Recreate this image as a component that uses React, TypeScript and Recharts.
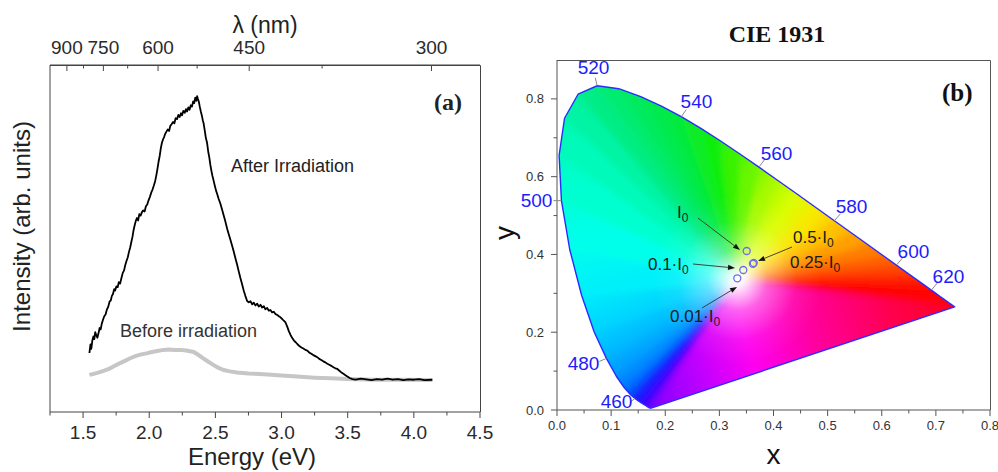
import React from 'react';
import {
  ComposedChart,
  Line,
  XAxis,
  YAxis,
  ScatterChart,
  Scatter,
  ReferenceDot,
  Customized,
} from 'recharts';

// ---------- (a) emission spectra ----------
const afterE = [
  1.548, 1.556, 1.562, 1.57, 1.578, 1.585, 1.592, 1.6, 1.608, 1.616, 1.625, 1.633, 1.641, 1.65, 1.66, 1.67,
  1.679, 1.69, 1.7, 1.71, 1.717, 1.726, 1.735, 1.742, 1.752, 1.762, 1.77, 1.78, 1.79, 1.8, 1.81, 1.818,
  1.828, 1.838, 1.846, 1.856, 1.866, 1.874, 1.881, 1.89, 1.898, 1.907, 1.916, 1.925, 1.935, 1.945, 1.955,
  1.965, 1.975, 1.985, 1.995, 2.005, 2.015, 2.025, 2.035, 2.045, 2.055, 2.063, 2.071, 2.08, 2.088, 2.096,
  2.105, 2.113, 2.121, 2.13, 2.14, 2.15, 2.159, 2.17, 2.18, 2.19, 2.2, 2.21, 2.22, 2.23, 2.24, 2.248,
  2.258, 2.268, 2.278, 2.286, 2.296, 2.305, 2.314, 2.323, 2.332, 2.34, 2.348, 2.356, 2.362, 2.368, 2.375,
  2.382, 2.39, 2.398, 2.405, 2.411, 2.42, 2.428, 2.437, 2.446, 2.454, 2.462, 2.47, 2.478, 2.487, 2.497,
  2.505, 2.513, 2.525, 2.538, 2.551, 2.563, 2.576, 2.589, 2.601, 2.613, 2.626, 2.638, 2.651, 2.664, 2.676,
  2.689, 2.702, 2.714, 2.727, 2.74, 2.752, 2.765, 2.778, 2.79, 2.803, 2.816, 2.828, 2.841, 2.853, 2.866,
  2.878, 2.891, 2.904, 2.916, 2.929, 2.942, 2.955, 2.967, 2.98, 2.992, 3.005, 3.017, 3.03, 3.043, 3.055,
  3.068, 3.081, 3.094, 3.107, 3.119, 3.135, 3.15, 3.165, 3.18, 3.195, 3.21, 3.225, 3.24, 3.255, 3.27,
  3.285, 3.3, 3.316, 3.331, 3.346, 3.361, 3.376, 3.392, 3.407, 3.422, 3.437, 3.452, 3.468, 3.483, 3.498,
  3.515, 3.536, 3.56, 3.6, 3.64, 3.68, 3.72, 3.76, 3.8, 3.84, 3.88, 3.92, 3.96, 4.0, 4.04, 4.08, 4.14,
];
const afterI = [
  17.0, 19.5, 18.2, 20.6, 21.8, 21.0, 23.0, 22.1, 21.4, 22.6, 24.2, 23.8, 25.4, 26.5, 27.6, 28.1,
  29.4, 30.3, 31.8, 32.2, 33.4, 34.0, 35.4, 35.0, 36.2, 36.0, 37.4, 37.0, 38.6, 40.1, 40.8, 42.2,
  43.5, 44.6, 46.0, 47.4, 49.2, 50.6, 52.3, 53.8, 55.0, 55.9, 55.2, 57.0, 56.6, 57.6, 58.1,
  57.8, 59.3, 59.8, 61.0, 62.0, 63.2, 64.1, 65.3, 66.6, 68.5, 70.3, 72.2, 74.0, 76.1, 77.6,
  78.6, 79.3, 80.2, 80.8, 81.4, 81.0, 82.4, 83.0, 83.6, 83.2, 84.7, 84.4, 85.6, 85.0, 86.1, 85.5,
  86.8, 86.2, 87.3, 86.6, 87.8, 87.1, 88.4, 88.0, 89.5, 89.0, 90.6, 89.7, 91.0, 90.2, 89.4,
  88.0, 86.6, 85.4, 84.0, 83.2, 81.0, 79.0, 77.6, 75.0, 73.4, 71.2, 69.5, 68.0, 66.6, 65.0,
  63.8, 62.9, 61.4, 60.0, 58.3, 56.6, 54.8, 52.8, 51.2, 49.7, 48.0, 46.3, 44.4, 42.5, 40.6,
  38.6, 36.8, 35.0, 33.4, 32.0, 31.6, 31.9, 31.0, 31.5, 30.7, 31.2, 30.4, 30.9, 30.1, 30.5,
  29.6, 30.0, 29.2, 29.4, 28.7, 28.9, 28.2, 28.0, 27.6, 27.3, 26.8, 26.3, 25.8, 24.6, 23.3,
  22.2, 21.3, 20.6, 20.1, 19.6, 19.0, 18.6, 18.3, 17.9, 17.7, 17.1, 16.8, 16.4, 16.1, 15.8,
  15.3, 15.0, 14.6, 14.3, 13.9, 13.6, 13.3, 12.9, 12.6, 12.4, 11.9, 11.4, 11.0, 10.6, 10.2,
  9.8, 9.5, 9.3, 9.6, 9.4, 9.2, 9.5, 9.3, 9.6, 9.3, 9.5, 9.2, 9.4, 9.3, 9.5, 9.2, 9.3,
];
const beforeE = [
  1.548, 1.58, 1.62, 1.66, 1.7, 1.74, 1.78, 1.82, 1.856, 1.9, 1.94, 1.98, 2.02, 2.06, 2.108, 2.15, 2.19,
  2.235, 2.28, 2.336, 2.37, 2.411, 2.45, 2.487, 2.52, 2.563, 2.61, 2.664, 2.75, 2.866, 3.0, 3.119, 3.25,
  3.371, 3.5, 3.7, 3.9, 4.14,
];
const beforeI = [
  10.7, 11.0, 11.4, 11.9, 12.5, 13.3, 14.1, 14.8, 15.5, 16.2, 16.6, 16.9, 17.3, 17.6, 17.9, 18.0, 17.9,
  17.9, 17.7, 17.3, 16.5, 15.4, 14.4, 13.5, 12.8, 12.1, 11.7, 11.4, 11.1, 10.9, 10.5, 10.2, 9.9,
  9.7, 9.5, 9.3, 9.3, 9.2,
];

const energyTicks = [1.5, 2.0, 2.5, 3.0, 3.5, 4.0, 4.5];
const energyMinor = [1.25, 1.75, 2.25, 2.75, 3.25, 3.75, 4.25];
const lambdaTicks = [900, 750, 600, 450, 300];
const lambdaMinor = [825, 675, 525, 375];
const energyRange = [1.25, 4.5];
const intensityRange = [0, 100];
const HC = 1240; // eV*nm

// ---------- (b) CIE 1931 ----------
const locusNm = [
  380, 385, 390, 395, 400, 405, 410, 415, 420, 425, 430, 435, 440, 445, 450, 455, 460, 465, 470, 475,
  480, 485, 490, 495, 500, 505, 510, 515, 520, 525, 530, 535, 540, 545, 550, 555, 560, 565, 570, 575,
  580, 585, 590, 595, 600, 605, 610, 615, 620, 625, 630, 635, 640, 645, 650, 655, 660, 665, 670, 675,
  680, 685, 690, 695, 700,
];
const locusX = [
  0.1741, 0.174, 0.1738, 0.1736, 0.1733, 0.173, 0.1726, 0.1721, 0.1714, 0.1703, 0.1689, 0.1669, 0.1644,
  0.1611, 0.1566, 0.151, 0.144, 0.1355, 0.1241, 0.1096, 0.0913, 0.0687, 0.0454, 0.0235, 0.0082, 0.0039,
  0.0139, 0.0389, 0.0743, 0.1142, 0.1547, 0.1929, 0.2296, 0.2658, 0.3016, 0.3373, 0.3731, 0.4087, 0.4441,
  0.4788, 0.5125, 0.5448, 0.5752, 0.6029, 0.627, 0.6482, 0.6658, 0.6801, 0.6915, 0.7006, 0.7079, 0.714,
  0.719, 0.723, 0.726, 0.7283, 0.73, 0.7311, 0.732, 0.7327, 0.7334, 0.734, 0.7344, 0.7346, 0.7347,
];
const locusY = [
  0.005, 0.005, 0.0049, 0.0049, 0.0048, 0.0048, 0.0048, 0.0048, 0.0051, 0.0058, 0.0069, 0.0086, 0.0109,
  0.0138, 0.0177, 0.0227, 0.0297, 0.0399, 0.0578, 0.0868, 0.1327, 0.2007, 0.295, 0.4127, 0.5384, 0.6548,
  0.7502, 0.812, 0.8338, 0.8262, 0.8059, 0.7816, 0.7543, 0.7243, 0.6923, 0.6589, 0.6245, 0.5896, 0.5547,
  0.5202, 0.4866, 0.4544, 0.4242, 0.3965, 0.3725, 0.3514, 0.334, 0.3197, 0.3083, 0.2993, 0.292, 0.2859,
  0.2809, 0.277, 0.274, 0.2717, 0.27, 0.2689, 0.268, 0.2673, 0.2666, 0.266, 0.2656, 0.2654, 0.2653,
];
const whitePoint = [0.3333, 0.3333];
const labelNm = [460, 480, 500, 520, 540, 560, 580, 600, 620];

const pointNames = ['I0', '0.5·I0', '0.25·I0', '0.1·I0', '0.01·I0'];
const pointX = [0.3505, 0.3635, 0.362, 0.3442, 0.3331];
const pointY = [0.4088, 0.378, 0.376, 0.36, 0.3387];

const xTicks = [0, 0.1, 0.2, 0.3, 0.4, 0.5, 0.6, 0.7, 0.8];
const xMinor = [0.05, 0.15, 0.25, 0.35, 0.45, 0.55, 0.65, 0.75];
const yTicks = [0, 0.2, 0.4, 0.6, 0.8];
const yMinor = [0.1, 0.3, 0.5, 0.7];
const cieXRange = [0, 0.8];
const cieYRange = [0, 0.9];

// annotation layout (data coordinates)
const notes = [
  { text: 'I0', at: [0.2217, 0.4937], from: [0.2605, 0.4937], to: [0.3381, 0.4114] },
  { text: '0.5·I0', at: [0.436, 0.4294], from: [0.4342, 0.4191], to: [0.3714, 0.3831] },
  { text: '0.25·I0', at: [0.4305, 0.3651] },
  { text: '0.1·I0', at: [0.1681, 0.36], from: [0.2513, 0.3754], to: [0.3289, 0.3651] },
  { text: '0.01·I0', at: [0.2088, 0.2263], from: [0.2679, 0.2623], to: [0.3326, 0.3163] },
];

const FONT = 'Arial, "Liberation Sans", Helvetica, sans-serif';
const SERIF = '"Times New Roman", "Liberation Serif", serif';

// fill colours along the locus
const hueStops: [number, string][] = [
  [380, '#8000ff'], [420, '#6a00ff'], [445, '#3800ff'], [460, '#0a20ff'], [470, '#0070ff'],
  [480, '#00b0ff'], [487, '#00e0ff'], [493, '#00fff4'], [500, '#00ffd0'], [510, '#00f4a4'],
  [520, '#00ec84'], [530, '#00ea60'], [540, '#00ea40'], [550, '#10ee10'], [558, '#50f400'],
  [565, '#a8fa00'], [572, '#f0ff00'], [578, '#ffd000'], [585, '#ffa000'], [592, '#ff7000'],
  [600, '#ff4400'], [610, '#ff1800'], [620, '#ff0000'], [700, '#ff0018'],
];
const rgb = (h: string) => [1, 3, 5].map((k) => parseInt(h.slice(k, k + 2), 16));
function colorAt(nm: number) {
  let i = 0;
  while (i < hueStops.length - 2 && nm > hueStops[i + 1][0]) i++;
  const [n0, c0] = hueStops[i];
  const [n1, c1] = hueStops[i + 1];
  const t = Math.min(1, Math.max(0, (nm - n0) / (n1 - n0)));
  const a = rgb(c0);
  const b = rgb(c1);
  return `rgb(${a.map((v, k) => Math.round(v + (b[k] - v) * t)).join(',')})`;
}

const wlOffsets: Record<number, number[]> = {
  // text centre dx, baseline dy, tick end dx, dy
  460: [-18.4, 9.5, -5, 4],
  480: [-22.9, 11.6, -7, 3],
  500: [-24.9, 6.4, -8, 0],
  520: [-3.7, -11.7, -2, -8],
  540: [15.2, -8.7, 5, -7],
  560: [17.6, -7.1, 6, -8],
  580: [17.1, -7.8, 6, -7],
  600: [17.1, -7.1, 6, -7],
  620: [17.2, -7.1, 6, -7],
};

const near = (list: number[], v: number) => list.some((t) => Math.abs(t - v) < 1e-6);

// ----- tick renderers (tickSize/tickMargin are 0, so x,y sit on the axis line) -----
const EnergyTick = (p: any) => {
  const v = p.payload.value;
  const major = near(energyTicks, v);
  return (
    <g>
      <line x1={p.x} y1={p.y} x2={p.x} y2={p.y + (major ? 6 : 3.5)} stroke="#444" />
      {major && (
        <text x={p.x} y={p.y + 27} textAnchor="middle" fontSize={19} fontFamily={FONT} fill="#2a2a2a">
          {v.toFixed(1)}
        </text>
      )}
    </g>
  );
};

const LambdaTick = (p: any) => {
  const nm = Math.round(HC / p.payload.value);
  const major = lambdaTicks.includes(nm);
  return (
    <g>
      <line x1={p.x} y1={p.y} x2={p.x} y2={p.y + (major ? 6 : 3.5)} stroke="#444" />
      {major && (
        <text x={p.x} y={p.y - 11} textAnchor="middle" fontSize={19} fontFamily={FONT} fill="#2a2a2a">
          {nm}
        </text>
      )}
    </g>
  );
};

const CieXTick = (p: any) => {
  const v = p.payload.value;
  const major = near(xTicks, v);
  return (
    <g>
      <line x1={p.x} y1={p.y} x2={p.x} y2={p.y + (major ? 6 : 3.5)} stroke="#555" />
      {major && (
        <text x={p.x} y={p.y + 20} textAnchor="middle" fontSize={13} fontFamily={FONT} fill="#333">
          {v.toFixed(1)}
        </text>
      )}
    </g>
  );
};

const CieYTick = (p: any) => {
  const v = p.payload.value;
  const major = near(yTicks, v);
  return (
    <g>
      <line x1={p.x - (major ? 6 : 3.5)} y1={p.y} x2={p.x} y2={p.y} stroke="#555" />
      {major && (
        <text x={p.x - 13} y={p.y + 4.5} textAnchor="end" fontSize={13} fontFamily={FONT} fill="#333">
          {v.toFixed(1)}
        </text>
      )}
    </g>
  );
};

const renderGamut = (props: any) => {
  const pts = props.points as { x: number; y: number }[];
  if (!pts || pts.length < 3) return <g />;
  const w = pts[pts.length - 1];
  const edge = pts.slice(0, -1);
  // push vertices a little past the locus so the blur does not fade the rim (clipped afterwards)
  const out = edge.map((p) => ({ x: w.x + (p.x - w.x) * 1.15, y: w.y + (p.y - w.y) * 1.15 }));
  const grads: React.ReactNode[] = [];
  const tris: React.ReactNode[] = [];
  for (let i = 0; i < out.length - 1; i++) {
    const a = out[i];
    const b = out[i + 1];
    grads.push(
      <linearGradient key={`g${i}`} id={`cie${i}`} gradientUnits="userSpaceOnUse" x1={a.x} y1={a.y} x2={b.x + 0.01} y2={b.y}>
        <stop offset="0" stopColor={colorAt(locusNm[i])} />
        <stop offset="1" stopColor={colorAt(locusNm[i + 1])} />
      </linearGradient>,
    );
    tris.push(
      <path
        key={`t${i}`}
        d={`M${w.x},${w.y}L${a.x},${a.y}L${b.x},${b.y}Z`}
        fill={`url(#cie${i})`}
        stroke={`url(#cie${i})`}
        strokeWidth={0.8}
      />,
    );
  }
  const p0 = out[0];
  const p1 = out[out.length - 1];
  const outline = edge.map((p, i) => `${i ? 'L' : 'M'}${p.x},${p.y}`).join('') + 'Z';
  const purple = `M${w.x},${w.y}L${p1.x},${p1.y}L${p0.x},${p0.y}Z`;
  return (
    <g>
      <defs>
        {grads}
        <linearGradient id="ciePurple" gradientUnits="userSpaceOnUse" x1={edge[0].x} y1={edge[0].y}
          x2={edge[edge.length - 1].x} y2={edge[edge.length - 1].y}>
          <stop offset="0" stopColor="#8000ff" />
          <stop offset="0.18" stopColor="#c000ff" />
          <stop offset="0.35" stopColor="#ff00f0" />
          <stop offset="0.55" stopColor="#ff00a0" />
          <stop offset="0.8" stopColor="#ff0050" />
          <stop offset="1" stopColor="#ff0020" />
        </linearGradient>
        <radialGradient id="cieGlow" gradientUnits="userSpaceOnUse" cx={w.x} cy={w.y} r={85}>
          <stop offset="0" stopColor="#ffffff" stopOpacity={1} />
          <stop offset="0.1" stopColor="#ffffff" stopOpacity={0.88} />
          <stop offset="0.35" stopColor="#ffffff" stopOpacity={0.38} />
          <stop offset="0.7" stopColor="#ffffff" stopOpacity={0.07} />
          <stop offset="1" stopColor="#ffffff" stopOpacity={0} />
        </radialGradient>
        <clipPath id="cieClip">
          <path d={outline} />
        </clipPath>
        <filter id="cieBlur" x="-10%" y="-10%" width="120%" height="120%">
          <feGaussianBlur stdDeviation="3" />
        </filter>
      </defs>
      <g clipPath="url(#cieClip)">
        <g filter="url(#cieBlur)">
          {tris}
          <path d={purple} fill="url(#ciePurple)" stroke="url(#ciePurple)" strokeWidth={0.8} />
        </g>
        <path d={outline} fill="url(#cieGlow)" />
      </g>
      <path d={outline} fill="none" stroke="#2b2bff" strokeWidth={1.4} strokeLinejoin="round" />
    </g>
  );
};

// arrow from the first to the second scaled point
const arrowPath = (props: any) => {
  const pts = props.points as { x: number; y: number }[];
  if (!pts || pts.length < 2) return <g />;
  const { x: x1, y: y1 } = pts[0];
  const { x: x2, y: y2 } = pts[1];
  const a = Math.atan2(y2 - y1, x2 - x1);
  const L = 7;
  const hw = 2.6;
  const bx = x2 - L * Math.cos(a);
  const by = y2 - L * Math.sin(a);
  const px = -Math.sin(a) * hw;
  const py = Math.cos(a) * hw;
  return (
    <g>
      <line x1={x1} y1={y1} x2={bx} y2={by} stroke="#333" strokeWidth={0.9} />
      <path d={`M${x2},${y2}L${bx + px},${by + py}L${bx - px},${by - py}Z`} fill="#111" />
    </g>
  );
};

const renderWl = (p: any) => {
  const nm = p.payload.nm;
  const [lx, ly, tx, ty] = wlOffsets[nm];
  return (
    <g>
      <line x1={p.cx} y1={p.cy} x2={p.cx + tx} y2={p.cy + ty} stroke="#8a8a8a" strokeWidth={1} />
      <text x={p.cx + lx} y={p.cy + ly} textAnchor="middle" fontSize={19} fontFamily={FONT} fill="#1c1cff">
        {nm}
      </text>
    </g>
  );
};

const renderPoint = (p: any) => (
  <circle cx={p.cx} cy={p.cy} r={3.5} fill="none" stroke="#6e6ef0" strokeWidth={1.3} />
);

const hidden = () => <g />;

const noteText = (text: string) => (p: any) => (
  <text x={p.cx} y={p.cy} fontSize={17} fontFamily={FONT} fill="#1a1a1a">
    {text.slice(0, -1)}
    <tspan fontSize={12} dy={4}>
      {text.slice(-1)}
    </tspan>
  </text>
);

// plot box of panel (a): x 50..480, y 65..412 (margins + axis sizes below)
const TextsA = () => (
  <g fontFamily={FONT} fill="#222">
    <path d="M50,65.5H480.5V412" fill="none" stroke="#444" strokeWidth={1} />
    <text x={265} y={33} textAnchor="middle" fontSize={23}>λ (nm)</text>
    <text x={252} y={465} textAnchor="middle" fontSize={24}>Energy (eV)</text>
    <text x={30} y={226.5} textAnchor="middle" fontSize={24} transform="rotate(-90 30 226.5)">
      Intensity (arb. units)
    </text>
    <text x={231} y={172} fontSize={18}>After Irradiation</text>
    <text x={120} y={337} fontSize={18} fill="#333">Before irradiation</text>
    <text x={434} y={110} fontSize={24} fontWeight="bold" fontFamily={SERIF}>(a)</text>
  </g>
);

// panel (b) svg starts at page x = 490; plot box x 67..500, y 60..410
const TextsB = () => (
  <g fontFamily={FONT} fill="#111">
    <path d="M67,60.5H500.5V410" fill="none" stroke="#555" strokeWidth={1} />
    <text x={287} y={42} textAnchor="middle" fontSize={24} fontWeight="bold" fontFamily={SERIF}>CIE 1931</text>
    <text x={452} y={101} fontSize={25} fontWeight="bold" fontFamily={SERIF}>(b)</text>
    <text x={283.5} y={464} textAnchor="middle" fontSize={28}>x</text>
    <text x={24} y={233} textAnchor="middle" fontSize={28} transform="rotate(-90 24 233)">y</text>
  </g>
);

function SpectrumPanel() {
  const after = afterE.map((e, i) => ({ e, v: afterI[i] }));
  const before = beforeE.map((e, i) => ({ e, v: beforeI[i] }));
  const ax = '#444';
  const eTicks = [...energyTicks, ...energyMinor].sort((a, b) => a - b);
  const lTicks = [...lambdaTicks, ...lambdaMinor].map((l) => HC / l).sort((a, b) => a - b);
  return (
    <ComposedChart width={500} height={472} margin={{ top: 0, right: 20, bottom: 0, left: 0 }}>
      <XAxis xAxisId="e" dataKey="e" type="number" domain={energyRange} ticks={eTicks}
        interval={0} height={60} tickSize={0} tickMargin={0} tickLine={false} tick={<EnergyTick />} stroke={ax} />
      <XAxis xAxisId="l" dataKey="e" orientation="top" type="number" domain={energyRange}
        ticks={lTicks} interval={0} height={65} tickSize={0} tickMargin={0} tickLine={false}
        tick={<LambdaTick />} stroke={ax} />
      <YAxis yAxisId="i" type="number" domain={intensityRange} width={50} tick={false}
        tickLine={false} stroke={ax} />
      {/* invisible series so the wavelength axis gets a scale */}
      <Line xAxisId="l" yAxisId="i" data={before} dataKey="v" stroke="none" dot={false} activeDot={false}
        isAnimationActive={false} />
      <Line xAxisId="e" yAxisId="i" data={before} dataKey="v" type="linear" dot={false} stroke="#c6c6c6"
        strokeWidth={4} isAnimationActive={false} />
      <Line xAxisId="e" yAxisId="i" data={after} dataKey="v" type="linear" dot={false} stroke="#000"
        strokeWidth={1.8} strokeLinejoin="round" isAnimationActive={false} />
      <Customized component={<TextsA />} />
    </ComposedChart>
  );
}

function CiePanel() {
  const gamut = locusNm.map((nm, i) => ({ x: locusX[i], y: locusY[i], nm }));
  gamut.push({ x: whitePoint[0], y: whitePoint[1], nm: 0 });
  const wl = gamut.filter((d) => labelNm.includes(d.nm));
  const pts = pointNames.map((name, i) => ({ x: pointX[i], y: pointY[i], name }));
  const ax = '#555';
  const xt = [...xTicks, ...xMinor].sort((a, b) => a - b);
  const yt = [...yTicks, ...yMinor].sort((a, b) => a - b);
  return (
    <ScatterChart width={508} height={472} margin={{ top: 60, right: 8, bottom: 0, left: 10 }}>
      <XAxis xAxisId="x" dataKey="x" type="number" domain={cieXRange} ticks={xt}
        interval={0} height={62} tickSize={0} tickMargin={0} tickLine={false} tick={<CieXTick />} stroke={ax} />
      <YAxis yAxisId="y" dataKey="y" type="number" domain={cieYRange} ticks={yt}
        interval={0} width={57} tickSize={0} tickMargin={0} tickLine={false} tick={<CieYTick />} stroke={ax} />
      <Scatter xAxisId="x" yAxisId="y" data={gamut} shape={hidden} line={renderGamut} lineType="joint"
        isAnimationActive={false} />
      <Scatter xAxisId="x" yAxisId="y" data={wl} shape={renderWl} isAnimationActive={false} />
      {notes
        .filter((n) => n.from)
        .map((n) => (
          <Scatter key={`a${n.text}`} xAxisId="x" yAxisId="y"
            data={[{ x: n.from![0], y: n.from![1] }, { x: n.to![0], y: n.to![1] }]}
            shape={hidden} line={arrowPath} lineType="joint" isAnimationActive={false} />
        ))}
      <Scatter xAxisId="x" yAxisId="y" data={pts} shape={renderPoint} isAnimationActive={false} />
      {notes.map((n) => (
        <ReferenceDot key={`n${n.text}`} xAxisId="x" yAxisId="y" x={n.at[0]} y={n.at[1]} r={1}
          shape={noteText(n.text)} />
      ))}
      <Customized component={<TextsB />} />
    </ScatterChart>
  );
}

export default function App() {
  return (
    <div style={{ position: 'absolute', left: 0, top: 0, width: 998, height: 472, background: '#fff', overflow: 'hidden' }}>
      <div style={{ position: 'absolute', left: 0, top: 0 }}>
        <SpectrumPanel />
      </div>
      <div style={{ position: 'absolute', left: 490, top: 0 }}>
        <CiePanel />
      </div>
    </div>
  );
}
